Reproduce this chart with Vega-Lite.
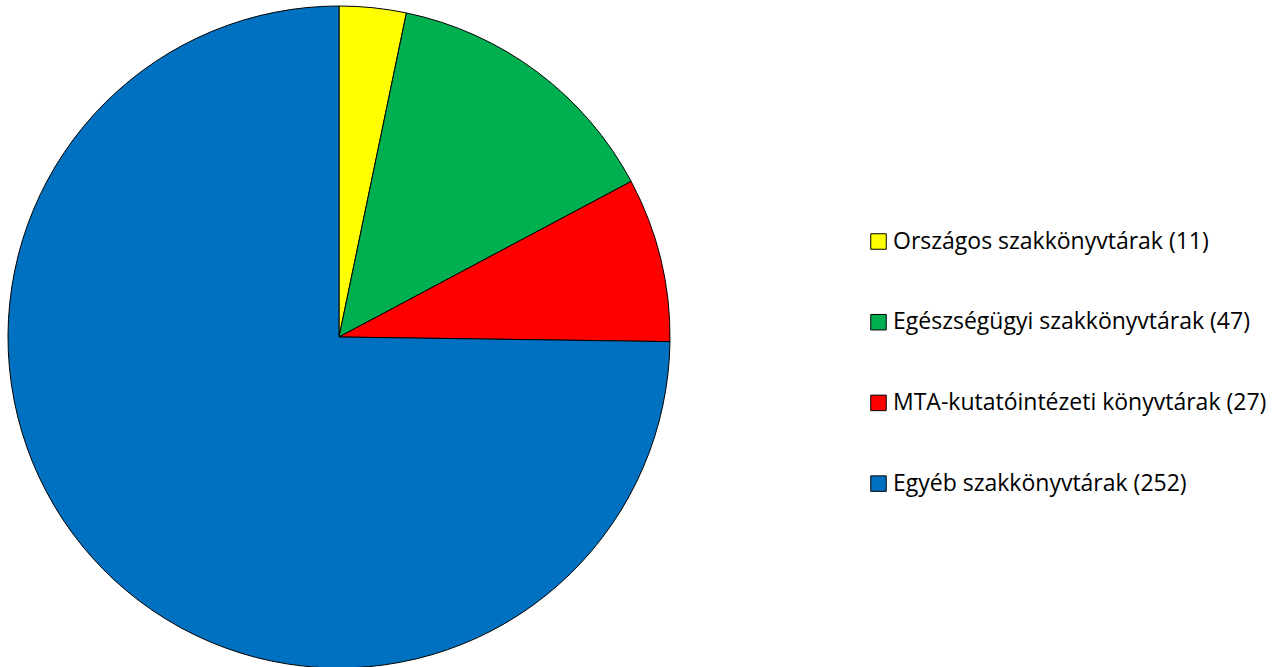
{
  "$schema": "https://vega.github.io/schema/vega-lite/v6.json",
  "width": 678,
  "height": 660,
  "padding": {"left": 0, "top": 4, "right": 0, "bottom": 0},
  "background": "white",
  "config": {"view": {"stroke": null}},
  "data": {
    "values": [
      {"category": "Országos szakkönyvtárak (11)", "value": 11, "idx": 1},
      {"category": "Egészségügyi szakkönyvtárak (47)", "value": 47, "idx": 2},
      {"category": "MTA-kutatóintézeti könyvtárak (27)", "value": 27, "idx": 3},
      {"category": "Egyéb szakkönyvtárak (252)", "value": 252, "idx": 4}
    ]
  },
  "mark": {"type": "arc", "outerRadius": 331, "stroke": "black", "strokeWidth": 1},
  "encoding": {
    "theta": {"field": "value", "type": "quantitative", "stack": true},
    "order": {"field": "idx", "type": "quantitative", "sort": "ascending"},
    "color": {
      "field": "category",
      "type": "nominal",
      "sort": ["Országos szakkönyvtárak (11)", "Egészségügyi szakkönyvtárak (47)", "MTA-kutatóintézeti könyvtárak (27)", "Egyéb szakkönyvtárak (252)"],
      "scale": {
        "domain": ["Országos szakkönyvtárak (11)", "Egészségügyi szakkönyvtárak (47)", "MTA-kutatóintézeti könyvtárak (27)", "Egyéb szakkönyvtárak (252)"],
        "range": ["#FFFF00", "#00B050", "#FF0000", "#0070C0"]
      },
      "legend": {
        "title": null,
        "orient": "none",
        "legendX": 867,
        "legendY": 223,
        "symbolType": "square",
        "symbolSize": 240,
        "symbolStrokeColor": "black",
        "symbolStrokeWidth": 1,
        "symbolOpacity": 1,
        "labelFont": "Open Sans",
        "labelFontSize": 23,
        "labelColor": "black",
        "labelOffset": 3,
        "rowPadding": 56.7,
        "labelLimit": 500
      }
    }
  }
}
